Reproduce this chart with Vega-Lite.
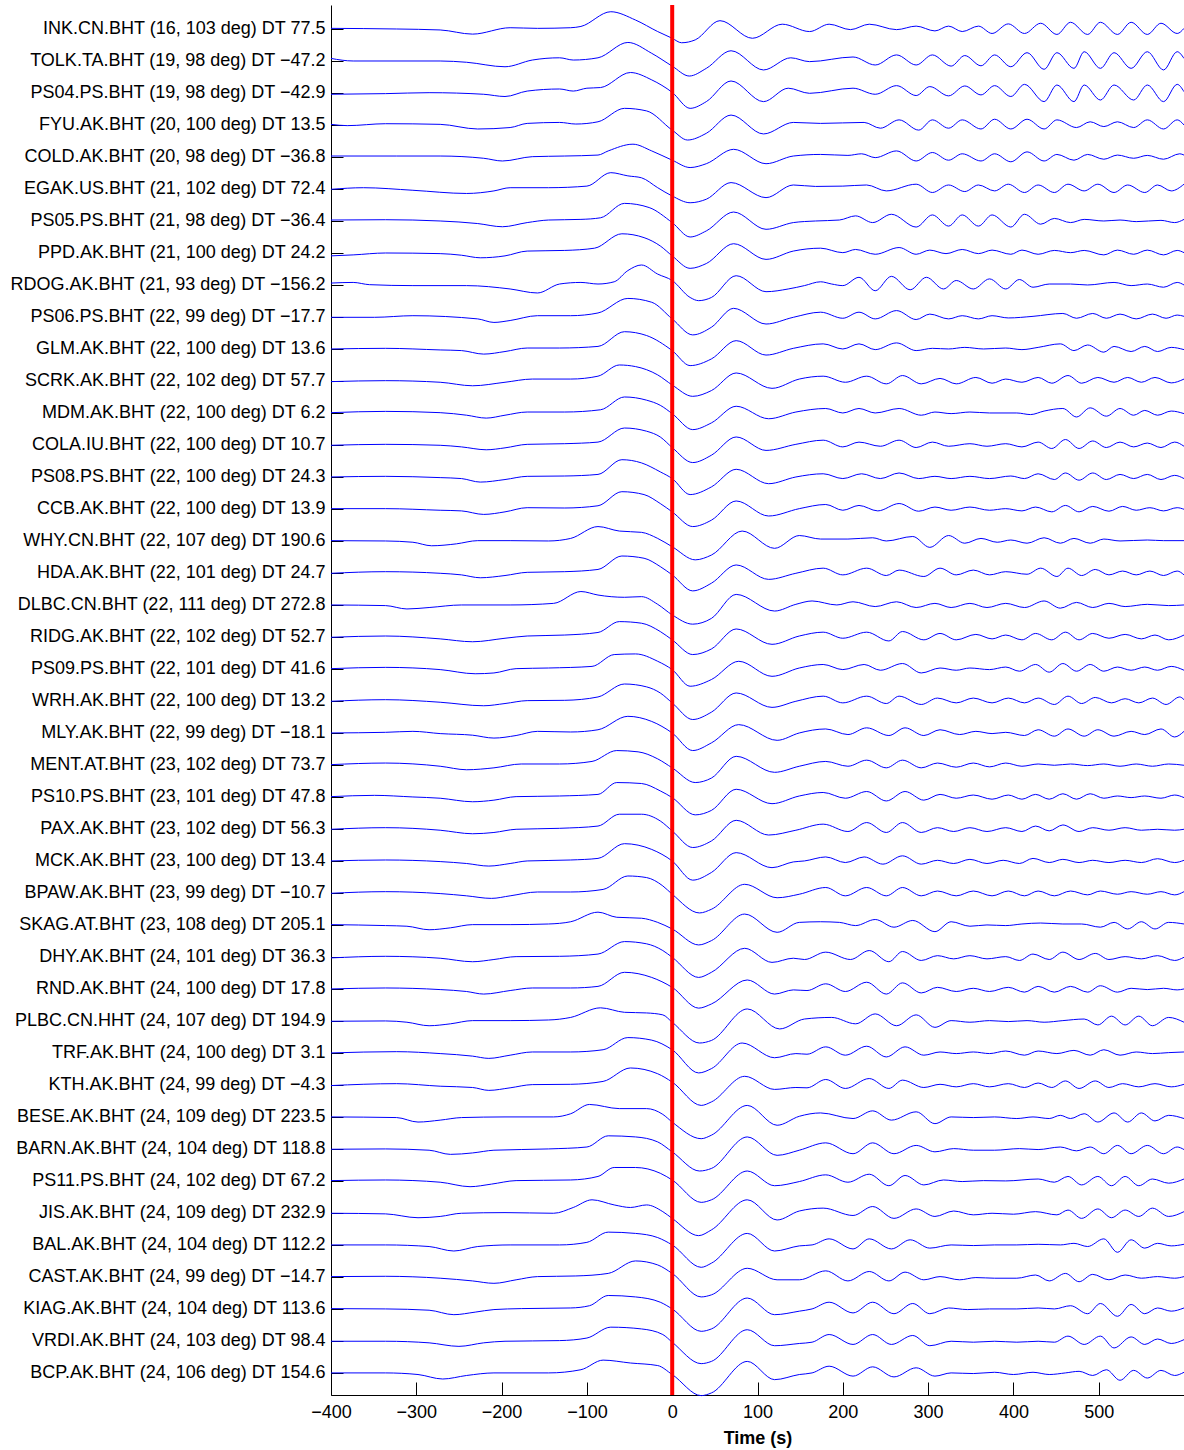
{
  "$schema": "https://vega.github.io/schema/vega-lite/v6.json",
  "width": 853,
  "height": 1390,
  "autosize": "none",
  "padding": {"left": 331, "top": 5, "right": 0, "bottom": 55},
  "background": "white",
  "config": {"view": {"stroke": null}, "font": "Liberation Sans"},
  "layer": [
    {
      "data": {"values": [
{"s":0,"t":-400,"y":-0.02},{"s":0,"t":-323,"y":0},{"s":0,"t":-272,"y":0.03},{"s":0,"t":-234,"y":0.16},{"s":0,"t":-190,"y":-0.04},{"s":0,"t":-158,"y":-0.02},{"s":0,"t":-119,"y":-0.04},{"s":0,"t":-107,"y":-0.08},{"s":0,"t":-72,"y":-0.54},{"s":0,"t":-43,"y":-0.28},{"s":0,"t":-17,"y":0.08},{"s":0,"t":0,"y":0.29},{"s":0,"t":11,"y":0.43},{"s":0,"t":27,"y":0.34},{"s":0,"t":56,"y":-0.26},{"s":0,"t":94,"y":0.29},{"s":0,"t":129,"y":-0.15},{"s":0,"t":161,"y":0.08},{"s":0,"t":184,"y":-0.15},{"s":0,"t":209,"y":0.02},{"s":0,"t":231,"y":-0.15},{"s":0,"t":263,"y":0.02},{"s":0,"t":286,"y":-0.09},{"s":0,"t":308,"y":0.06},{"s":0,"t":324,"y":-0.09},{"s":0,"t":340,"y":0.08},{"s":0,"t":359,"y":-0.09},{"s":0,"t":375,"y":0.14},{"s":0,"t":394,"y":-0.16},{"s":0,"t":413,"y":0.14},{"s":0,"t":432,"y":-0.18},{"s":0,"t":451,"y":0.17},{"s":0,"t":467,"y":-0.21},{"s":0,"t":487,"y":0.17},{"s":0,"t":502,"y":-0.21},{"s":0,"t":522,"y":0.17},{"s":0,"t":538,"y":-0.21},{"s":0,"t":557,"y":0.17},{"s":0,"t":573,"y":-0.18},{"s":0,"t":592,"y":0.14},{"s":0,"t":600,"y":-0.02},
{"s":1,"t":-400,"y":0.92},{"s":1,"t":-374,"y":1},{"s":1,"t":-272,"y":1},{"s":1,"t":-241,"y":1.04},{"s":1,"t":-196,"y":1.18},{"s":1,"t":-164,"y":0.97},{"s":1,"t":-132,"y":0.9},{"s":1,"t":-116,"y":0.97},{"s":1,"t":-87,"y":0.9},{"s":1,"t":-52,"y":0.42},{"s":1,"t":-24,"y":0.76},{"s":1,"t":0,"y":1.16},{"s":1,"t":20,"y":1.47},{"s":1,"t":40,"y":1.23},{"s":1,"t":69,"y":0.68},{"s":1,"t":107,"y":1.28},{"s":1,"t":139,"y":0.9},{"s":1,"t":161,"y":1.02},{"s":1,"t":212,"y":0.875},{"s":1,"t":238,"y":1.125},{"s":1,"t":263,"y":0.81},{"s":1,"t":286,"y":1.125},{"s":1,"t":305,"y":0.81},{"s":1,"t":327,"y":1.16},{"s":1,"t":343,"y":0.83},{"s":1,"t":362,"y":1.15},{"s":1,"t":378,"y":0.81},{"s":1,"t":397,"y":1.18},{"s":1,"t":416,"y":0.74},{"s":1,"t":436,"y":1.26},{"s":1,"t":451,"y":0.74},{"s":1,"t":471,"y":1.23},{"s":1,"t":483,"y":0.71},{"s":1,"t":502,"y":1.23},{"s":1,"t":518,"y":0.74},{"s":1,"t":538,"y":1.23},{"s":1,"t":557,"y":0.71},{"s":1,"t":576,"y":1.28},{"s":1,"t":592,"y":0.71},{"s":1,"t":600,"y":0.92},
{"s":2,"t":-400,"y":2.04},{"s":2,"t":-336,"y":2.02},{"s":2,"t":-285,"y":1.99},{"s":2,"t":-221,"y":2.04},{"s":2,"t":-196,"y":2.11},{"s":2,"t":-170,"y":1.94},{"s":2,"t":-132,"y":1.875},{"s":2,"t":-116,"y":1.94},{"s":2,"t":-100,"y":1.85},{"s":2,"t":-84,"y":1.83},{"s":2,"t":-49,"y":1.36},{"s":2,"t":-24,"y":1.59},{"s":2,"t":0,"y":1.98},{"s":2,"t":21,"y":2.48},{"s":2,"t":40,"y":2.27},{"s":2,"t":69,"y":1.625},{"s":2,"t":107,"y":2.27},{"s":2,"t":136,"y":1.85},{"s":2,"t":161,"y":2.01},{"s":2,"t":212,"y":1.85},{"s":2,"t":238,"y":2.04},{"s":2,"t":263,"y":1.77},{"s":2,"t":286,"y":2.08},{"s":2,"t":302,"y":1.8},{"s":2,"t":324,"y":2.09},{"s":2,"t":343,"y":1.78},{"s":2,"t":362,"y":2.06},{"s":2,"t":378,"y":1.77},{"s":2,"t":397,"y":2.11},{"s":2,"t":413,"y":1.73},{"s":2,"t":436,"y":2.27},{"s":2,"t":451,"y":1.75},{"s":2,"t":471,"y":2.27},{"s":2,"t":483,"y":1.75},{"s":2,"t":502,"y":2.22},{"s":2,"t":518,"y":1.75},{"s":2,"t":541,"y":2.22},{"s":2,"t":557,"y":1.75},{"s":2,"t":576,"y":2.27},{"s":2,"t":592,"y":1.73},{"s":2,"t":600,"y":1.96},
{"s":3,"t":-400,"y":2.98},{"s":3,"t":-381,"y":3.02},{"s":3,"t":-336,"y":2.96},{"s":3,"t":-272,"y":2.98},{"s":3,"t":-228,"y":3.125},{"s":3,"t":-190,"y":3.08},{"s":3,"t":-170,"y":2.95},{"s":3,"t":-132,"y":2.92},{"s":3,"t":-113,"y":2.97},{"s":3,"t":-87,"y":2.9},{"s":3,"t":-56,"y":2.48},{"s":3,"t":-30,"y":2.56},{"s":3,"t":0,"y":3.16},{"s":3,"t":18,"y":3.47},{"s":3,"t":40,"y":3.26},{"s":3,"t":69,"y":2.69},{"s":3,"t":107,"y":3.28},{"s":3,"t":142,"y":2.92},{"s":3,"t":174,"y":2.95},{"s":3,"t":225,"y":2.92},{"s":3,"t":244,"y":3.1},{"s":3,"t":266,"y":2.84},{"s":3,"t":289,"y":3.16},{"s":3,"t":305,"y":2.84},{"s":3,"t":324,"y":3.1},{"s":3,"t":340,"y":2.84},{"s":3,"t":362,"y":3.125},{"s":3,"t":378,"y":2.82},{"s":3,"t":397,"y":3.125},{"s":3,"t":416,"y":2.82},{"s":3,"t":436,"y":3.125},{"s":3,"t":451,"y":2.84},{"s":3,"t":474,"y":3.08},{"s":3,"t":490,"y":2.9},{"s":3,"t":506,"y":3.05},{"s":3,"t":522,"y":2.9},{"s":3,"t":541,"y":3.08},{"s":3,"t":557,"y":2.84},{"s":3,"t":576,"y":3.125},{"s":3,"t":592,"y":2.84},{"s":3,"t":600,"y":3},
{"s":4,"t":-400,"y":3.97},{"s":4,"t":-323,"y":3.97},{"s":4,"t":-272,"y":3.97},{"s":4,"t":-221,"y":4.04},{"s":4,"t":-199,"y":4.125},{"s":4,"t":-164,"y":3.99},{"s":4,"t":-126,"y":3.97},{"s":4,"t":-87,"y":3.94},{"s":4,"t":-75,"y":3.81},{"s":4,"t":-46,"y":3.6},{"s":4,"t":-24,"y":3.81},{"s":4,"t":0,"y":4.1},{"s":4,"t":21,"y":4.33},{"s":4,"t":40,"y":4.21},{"s":4,"t":72,"y":3.76},{"s":4,"t":110,"y":4.21},{"s":4,"t":142,"y":3.97},{"s":4,"t":174,"y":3.92},{"s":4,"t":206,"y":3.95},{"s":4,"t":222,"y":3.9},{"s":4,"t":238,"y":4.02},{"s":4,"t":263,"y":3.81},{"s":4,"t":286,"y":4.125},{"s":4,"t":305,"y":3.86},{"s":4,"t":324,"y":4.1},{"s":4,"t":340,"y":3.9},{"s":4,"t":362,"y":4.125},{"s":4,"t":378,"y":3.9},{"s":4,"t":397,"y":4.15},{"s":4,"t":416,"y":3.84},{"s":4,"t":436,"y":4.125},{"s":4,"t":451,"y":3.92},{"s":4,"t":471,"y":4.1},{"s":4,"t":487,"y":3.92},{"s":4,"t":506,"y":4.07},{"s":4,"t":522,"y":3.94},{"s":4,"t":541,"y":4.04},{"s":4,"t":557,"y":3.95},{"s":4,"t":576,"y":4.07},{"s":4,"t":595,"y":3.9},{"s":4,"t":600,"y":3.94},
{"s":5,"t":-400,"y":5.01},{"s":5,"t":-362,"y":4.96},{"s":5,"t":-304,"y":5.04},{"s":5,"t":-241,"y":5.14},{"s":5,"t":-209,"y":5.06},{"s":5,"t":-190,"y":4.96},{"s":5,"t":-145,"y":4.96},{"s":5,"t":-100,"y":4.91},{"s":5,"t":-72,"y":4.49},{"s":5,"t":-52,"y":4.59},{"s":5,"t":-36,"y":4.65},{"s":5,"t":-17,"y":4.96},{"s":5,"t":0,"y":5.22},{"s":5,"t":21,"y":5.43},{"s":5,"t":40,"y":5.32},{"s":5,"t":69,"y":4.8},{"s":5,"t":110,"y":5.27},{"s":5,"t":142,"y":4.875},{"s":5,"t":168,"y":4.92},{"s":5,"t":200,"y":4.91},{"s":5,"t":228,"y":4.875},{"s":5,"t":251,"y":5.06},{"s":5,"t":286,"y":4.85},{"s":5,"t":305,"y":5.11},{"s":5,"t":324,"y":4.875},{"s":5,"t":343,"y":5.08},{"s":5,"t":359,"y":4.875},{"s":5,"t":378,"y":5.06},{"s":5,"t":394,"y":4.85},{"s":5,"t":413,"y":5.11},{"s":5,"t":429,"y":4.875},{"s":5,"t":448,"y":5.11},{"s":5,"t":464,"y":4.85},{"s":5,"t":483,"y":5.06},{"s":5,"t":499,"y":4.85},{"s":5,"t":518,"y":5.11},{"s":5,"t":534,"y":4.875},{"s":5,"t":554,"y":5.11},{"s":5,"t":569,"y":4.875},{"s":5,"t":585,"y":5.06},{"s":5,"t":600,"y":4.85},
{"s":6,"t":-400,"y":5.97},{"s":6,"t":-336,"y":5.96},{"s":6,"t":-272,"y":6},{"s":6,"t":-228,"y":6.08},{"s":6,"t":-199,"y":6.18},{"s":6,"t":-170,"y":6.05},{"s":6,"t":-145,"y":5.97},{"s":6,"t":-107,"y":5.95},{"s":6,"t":-84,"y":5.9},{"s":6,"t":-56,"y":5.45},{"s":6,"t":-27,"y":5.58},{"s":6,"t":0,"y":6.05},{"s":6,"t":21,"y":6.5},{"s":6,"t":40,"y":6.31},{"s":6,"t":72,"y":5.72},{"s":6,"t":110,"y":6.26},{"s":6,"t":142,"y":6.05},{"s":6,"t":168,"y":6},{"s":6,"t":196,"y":5.97},{"s":6,"t":215,"y":5.84},{"s":6,"t":235,"y":6.05},{"s":6,"t":257,"y":5.79},{"s":6,"t":286,"y":6.19},{"s":6,"t":305,"y":5.81},{"s":6,"t":324,"y":6.16},{"s":6,"t":340,"y":5.81},{"s":6,"t":359,"y":6.16},{"s":6,"t":375,"y":5.81},{"s":6,"t":397,"y":6.19},{"s":6,"t":413,"y":5.79},{"s":6,"t":432,"y":6.1},{"s":6,"t":448,"y":5.92},{"s":6,"t":467,"y":6.05},{"s":6,"t":483,"y":5.95},{"s":6,"t":506,"y":6},{"s":6,"t":525,"y":5.97},{"s":6,"t":544,"y":6.02},{"s":6,"t":573,"y":5.98},{"s":6,"t":589,"y":6.05},{"s":6,"t":600,"y":5.95},
{"s":7,"t":-400,"y":7.09},{"s":7,"t":-374,"y":7.06},{"s":7,"t":-336,"y":7},{"s":7,"t":-272,"y":7.02},{"s":7,"t":-247,"y":7.07},{"s":7,"t":-225,"y":7.15},{"s":7,"t":-196,"y":7.09},{"s":7,"t":-170,"y":6.94},{"s":7,"t":-126,"y":6.92},{"s":7,"t":-91,"y":6.85},{"s":7,"t":-59,"y":6.4},{"s":7,"t":-33,"y":6.52},{"s":7,"t":-14,"y":6.78},{"s":7,"t":0,"y":7.09},{"s":7,"t":21,"y":7.48},{"s":7,"t":40,"y":7.33},{"s":7,"t":72,"y":6.71},{"s":7,"t":110,"y":7.2},{"s":7,"t":142,"y":6.94},{"s":7,"t":174,"y":6.85},{"s":7,"t":200,"y":6.99},{"s":7,"t":215,"y":6.89},{"s":7,"t":238,"y":7.04},{"s":7,"t":266,"y":6.83},{"s":7,"t":286,"y":7.04},{"s":7,"t":302,"y":6.91},{"s":7,"t":321,"y":7.02},{"s":7,"t":340,"y":6.89},{"s":7,"t":359,"y":7.02},{"s":7,"t":375,"y":6.91},{"s":7,"t":397,"y":7.04},{"s":7,"t":410,"y":6.91},{"s":7,"t":429,"y":7.04},{"s":7,"t":448,"y":6.92},{"s":7,"t":467,"y":6.99},{"s":7,"t":483,"y":6.92},{"s":7,"t":506,"y":7.06},{"s":7,"t":522,"y":6.91},{"s":7,"t":541,"y":7.04},{"s":7,"t":557,"y":6.91},{"s":7,"t":576,"y":7.06},{"s":7,"t":592,"y":6.92},{"s":7,"t":600,"y":6.99},
{"s":8,"t":-400,"y":7.94},{"s":8,"t":-374,"y":7.92},{"s":8,"t":-355,"y":7.99},{"s":8,"t":-304,"y":8.02},{"s":8,"t":-241,"y":8.02},{"s":8,"t":-190,"y":8.125},{"s":8,"t":-158,"y":8.25},{"s":8,"t":-132,"y":7.97},{"s":8,"t":-107,"y":7.92},{"s":8,"t":-87,"y":7.97},{"s":8,"t":-68,"y":7.9},{"s":8,"t":-52,"y":7.55},{"s":8,"t":-36,"y":7.375},{"s":8,"t":-17,"y":7.66},{"s":8,"t":0,"y":7.86},{"s":8,"t":21,"y":8.39},{"s":8,"t":31,"y":8.49},{"s":8,"t":46,"y":8.39},{"s":8,"t":75,"y":7.71},{"s":8,"t":110,"y":8.21},{"s":8,"t":136,"y":8.125},{"s":8,"t":155,"y":8.02},{"s":8,"t":174,"y":7.9},{"s":8,"t":187,"y":7.97},{"s":8,"t":200,"y":8.02},{"s":8,"t":219,"y":7.76},{"s":8,"t":238,"y":8.18},{"s":8,"t":257,"y":7.73},{"s":8,"t":279,"y":8.15},{"s":8,"t":298,"y":7.76},{"s":8,"t":318,"y":8.125},{"s":8,"t":333,"y":7.86},{"s":8,"t":353,"y":8.125},{"s":8,"t":372,"y":7.81},{"s":8,"t":391,"y":8.125},{"s":8,"t":407,"y":7.83},{"s":8,"t":423,"y":8.07},{"s":8,"t":442,"y":7.97},{"s":8,"t":467,"y":7.97},{"s":8,"t":487,"y":8},{"s":8,"t":518,"y":7.92},{"s":8,"t":538,"y":8.02},{"s":8,"t":557,"y":7.97},{"s":8,"t":576,"y":8.07},{"s":8,"t":592,"y":7.92},{"s":8,"t":600,"y":8},
{"s":9,"t":-400,"y":9.01},{"s":9,"t":-349,"y":9.01},{"s":9,"t":-304,"y":8.96},{"s":9,"t":-228,"y":9.06},{"s":9,"t":-209,"y":9.17},{"s":9,"t":-190,"y":9.11},{"s":9,"t":-158,"y":8.96},{"s":9,"t":-119,"y":8.96},{"s":9,"t":-87,"y":8.875},{"s":9,"t":-52,"y":8.42},{"s":9,"t":-24,"y":8.54},{"s":9,"t":0,"y":9.06},{"s":9,"t":24,"y":9.56},{"s":9,"t":46,"y":9.32},{"s":9,"t":72,"y":8.73},{"s":9,"t":110,"y":9.22},{"s":9,"t":142,"y":9.01},{"s":9,"t":174,"y":8.85},{"s":9,"t":200,"y":9.04},{"s":9,"t":219,"y":8.85},{"s":9,"t":238,"y":9.06},{"s":9,"t":263,"y":8.8},{"s":9,"t":286,"y":9.08},{"s":9,"t":302,"y":8.91},{"s":9,"t":324,"y":9.06},{"s":9,"t":340,"y":8.96},{"s":9,"t":359,"y":9.06},{"s":9,"t":375,"y":8.96},{"s":9,"t":394,"y":9.03},{"s":9,"t":423,"y":8.98},{"s":9,"t":458,"y":8.89},{"s":9,"t":474,"y":9.04},{"s":9,"t":493,"y":8.89},{"s":9,"t":509,"y":9.04},{"s":9,"t":525,"y":8.91},{"s":9,"t":544,"y":9.06},{"s":9,"t":563,"y":8.91},{"s":9,"t":579,"y":9.04},{"s":9,"t":592,"y":8.94},{"s":9,"t":600,"y":8.98},
{"s":10,"t":-400,"y":10},{"s":10,"t":-336,"y":9.98},{"s":10,"t":-272,"y":10.03},{"s":10,"t":-247,"y":10.05},{"s":10,"t":-221,"y":10.16},{"s":10,"t":-196,"y":10.08},{"s":10,"t":-170,"y":9.97},{"s":10,"t":-132,"y":9.97},{"s":10,"t":-87,"y":9.92},{"s":10,"t":-56,"y":9.46},{"s":10,"t":-30,"y":9.58},{"s":10,"t":0,"y":10.05},{"s":10,"t":21,"y":10.52},{"s":10,"t":46,"y":10.31},{"s":10,"t":75,"y":9.74},{"s":10,"t":110,"y":10.19},{"s":10,"t":142,"y":9.98},{"s":10,"t":177,"y":9.84},{"s":10,"t":200,"y":10},{"s":10,"t":219,"y":9.84},{"s":10,"t":238,"y":10.02},{"s":10,"t":263,"y":9.81},{"s":10,"t":286,"y":10.05},{"s":10,"t":305,"y":9.98},{"s":10,"t":324,"y":10},{"s":10,"t":343,"y":9.95},{"s":10,"t":365,"y":10},{"s":10,"t":391,"y":9.97},{"s":10,"t":410,"y":10.02},{"s":10,"t":429,"y":9.95},{"s":10,"t":455,"y":9.84},{"s":10,"t":471,"y":10.05},{"s":10,"t":487,"y":9.875},{"s":10,"t":506,"y":10.1},{"s":10,"t":518,"y":9.92},{"s":10,"t":538,"y":10.08},{"s":10,"t":554,"y":9.92},{"s":10,"t":569,"y":10.08},{"s":10,"t":585,"y":9.95},{"s":10,"t":600,"y":10.02},
{"s":11,"t":-400,"y":11.02},{"s":11,"t":-336,"y":10.99},{"s":11,"t":-272,"y":11.04},{"s":11,"t":-234,"y":11.15},{"s":11,"t":-196,"y":11.04},{"s":11,"t":-164,"y":10.94},{"s":11,"t":-119,"y":10.94},{"s":11,"t":-87,"y":10.85},{"s":11,"t":-62,"y":10.5},{"s":11,"t":-43,"y":10.55},{"s":11,"t":-17,"y":10.81},{"s":11,"t":0,"y":11.125},{"s":11,"t":24,"y":11.48},{"s":11,"t":46,"y":11.3},{"s":11,"t":75,"y":10.75},{"s":11,"t":117,"y":11.23},{"s":11,"t":149,"y":10.94},{"s":11,"t":177,"y":10.85},{"s":11,"t":203,"y":11.04},{"s":11,"t":228,"y":10.85},{"s":11,"t":251,"y":11.09},{"s":11,"t":270,"y":10.83},{"s":11,"t":292,"y":11.09},{"s":11,"t":314,"y":10.92},{"s":11,"t":333,"y":11.09},{"s":11,"t":356,"y":10.89},{"s":11,"t":375,"y":11.07},{"s":11,"t":391,"y":10.94},{"s":11,"t":410,"y":11.04},{"s":11,"t":429,"y":10.89},{"s":11,"t":445,"y":11.07},{"s":11,"t":464,"y":10.83},{"s":11,"t":480,"y":11.07},{"s":11,"t":499,"y":10.89},{"s":11,"t":518,"y":11.04},{"s":11,"t":534,"y":10.89},{"s":11,"t":550,"y":11.04},{"s":11,"t":566,"y":10.89},{"s":11,"t":585,"y":11.06},{"s":11,"t":600,"y":10.94},
{"s":12,"t":-400,"y":11.99},{"s":12,"t":-336,"y":11.95},{"s":12,"t":-272,"y":11.99},{"s":12,"t":-241,"y":12.07},{"s":12,"t":-218,"y":12.16},{"s":12,"t":-196,"y":12.07},{"s":12,"t":-170,"y":11.97},{"s":12,"t":-126,"y":11.97},{"s":12,"t":-84,"y":11.9},{"s":12,"t":-56,"y":11.5},{"s":12,"t":-30,"y":11.6},{"s":12,"t":-14,"y":11.76},{"s":12,"t":0,"y":12.02},{"s":12,"t":24,"y":12.52},{"s":12,"t":46,"y":12.31},{"s":12,"t":75,"y":11.79},{"s":12,"t":113,"y":12.18},{"s":12,"t":145,"y":11.97},{"s":12,"t":180,"y":11.86},{"s":12,"t":200,"y":12},{"s":12,"t":219,"y":11.86},{"s":12,"t":238,"y":12},{"s":12,"t":266,"y":11.86},{"s":12,"t":292,"y":12.07},{"s":12,"t":308,"y":11.97},{"s":12,"t":327,"y":12.02},{"s":12,"t":349,"y":11.97},{"s":12,"t":372,"y":12},{"s":12,"t":404,"y":12},{"s":12,"t":420,"y":12.05},{"s":12,"t":436,"y":11.94},{"s":12,"t":458,"y":11.86},{"s":12,"t":474,"y":12.125},{"s":12,"t":490,"y":11.84},{"s":12,"t":509,"y":12.1},{"s":12,"t":525,"y":11.86},{"s":12,"t":541,"y":12.07},{"s":12,"t":554,"y":11.92},{"s":12,"t":569,"y":12.07},{"s":12,"t":585,"y":11.94},{"s":12,"t":600,"y":12.02},
{"s":13,"t":-400,"y":13.01},{"s":13,"t":-336,"y":12.98},{"s":13,"t":-272,"y":13.01},{"s":13,"t":-247,"y":13.06},{"s":13,"t":-218,"y":13.15},{"s":13,"t":-196,"y":13.09},{"s":13,"t":-170,"y":12.98},{"s":13,"t":-126,"y":12.96},{"s":13,"t":-87,"y":12.91},{"s":13,"t":-56,"y":12.47},{"s":13,"t":-30,"y":12.57},{"s":13,"t":-14,"y":12.75},{"s":13,"t":0,"y":13.08},{"s":13,"t":24,"y":13.55},{"s":13,"t":46,"y":13.32},{"s":13,"t":75,"y":12.75},{"s":13,"t":110,"y":13.17},{"s":13,"t":145,"y":12.98},{"s":13,"t":177,"y":12.85},{"s":13,"t":200,"y":13.06},{"s":13,"t":219,"y":12.91},{"s":13,"t":244,"y":13.04},{"s":13,"t":266,"y":12.85},{"s":13,"t":286,"y":13.08},{"s":13,"t":305,"y":12.91},{"s":13,"t":324,"y":13.04},{"s":13,"t":349,"y":12.96},{"s":13,"t":369,"y":13.04},{"s":13,"t":391,"y":12.96},{"s":13,"t":410,"y":13.06},{"s":13,"t":429,"y":12.91},{"s":13,"t":445,"y":13.11},{"s":13,"t":461,"y":12.83},{"s":13,"t":477,"y":13.11},{"s":13,"t":493,"y":12.875},{"s":13,"t":509,"y":13.08},{"s":13,"t":525,"y":12.91},{"s":13,"t":541,"y":13.06},{"s":13,"t":557,"y":12.94},{"s":13,"t":573,"y":13.08},{"s":13,"t":589,"y":12.91},{"s":13,"t":600,"y":13.04},
{"s":14,"t":-400,"y":14},{"s":14,"t":-336,"y":13.98},{"s":14,"t":-272,"y":14.02},{"s":14,"t":-247,"y":14.05},{"s":14,"t":-225,"y":14.16},{"s":14,"t":-196,"y":14.08},{"s":14,"t":-170,"y":13.98},{"s":14,"t":-126,"y":13.97},{"s":14,"t":-87,"y":13.92},{"s":14,"t":-59,"y":13.46},{"s":14,"t":-36,"y":13.56},{"s":14,"t":-14,"y":13.84},{"s":14,"t":0,"y":14.05},{"s":14,"t":21,"y":14.55},{"s":14,"t":46,"y":14.31},{"s":14,"t":75,"y":13.76},{"s":14,"t":113,"y":14.21},{"s":14,"t":145,"y":14},{"s":14,"t":177,"y":13.9},{"s":14,"t":200,"y":14.05},{"s":14,"t":222,"y":13.9},{"s":14,"t":244,"y":14.05},{"s":14,"t":266,"y":13.875},{"s":14,"t":289,"y":14.05},{"s":14,"t":308,"y":13.98},{"s":14,"t":327,"y":14.05},{"s":14,"t":349,"y":13.98},{"s":14,"t":372,"y":14.05},{"s":14,"t":397,"y":13.97},{"s":14,"t":413,"y":14.05},{"s":14,"t":429,"y":13.9},{"s":14,"t":448,"y":14.08},{"s":14,"t":461,"y":13.875},{"s":14,"t":477,"y":14.1},{"s":14,"t":493,"y":13.875},{"s":14,"t":509,"y":14.08},{"s":14,"t":525,"y":13.92},{"s":14,"t":541,"y":14.05},{"s":14,"t":557,"y":13.92},{"s":14,"t":573,"y":14.08},{"s":14,"t":589,"y":13.95},{"s":14,"t":600,"y":14.05},
{"s":15,"t":-400,"y":14.99},{"s":15,"t":-336,"y":14.99},{"s":15,"t":-272,"y":15.04},{"s":15,"t":-247,"y":15.06},{"s":15,"t":-221,"y":15.17},{"s":15,"t":-196,"y":15.09},{"s":15,"t":-170,"y":14.96},{"s":15,"t":-126,"y":14.97},{"s":15,"t":-87,"y":14.9},{"s":15,"t":-59,"y":14.46},{"s":15,"t":-33,"y":14.55},{"s":15,"t":-14,"y":14.83},{"s":15,"t":0,"y":15.09},{"s":15,"t":24,"y":15.55},{"s":15,"t":46,"y":15.35},{"s":15,"t":75,"y":14.75},{"s":15,"t":113,"y":15.22},{"s":15,"t":149,"y":14.99},{"s":15,"t":180,"y":14.86},{"s":15,"t":200,"y":15.04},{"s":15,"t":219,"y":14.89},{"s":15,"t":241,"y":15.06},{"s":15,"t":266,"y":14.83},{"s":15,"t":289,"y":15.07},{"s":15,"t":308,"y":14.94},{"s":15,"t":327,"y":15.04},{"s":15,"t":349,"y":14.94},{"s":15,"t":372,"y":15.04},{"s":15,"t":391,"y":14.99},{"s":15,"t":410,"y":15.06},{"s":15,"t":426,"y":14.94},{"s":15,"t":445,"y":15.09},{"s":15,"t":461,"y":14.89},{"s":15,"t":477,"y":15.09},{"s":15,"t":493,"y":14.92},{"s":15,"t":512,"y":15.07},{"s":15,"t":528,"y":14.92},{"s":15,"t":544,"y":15.04},{"s":15,"t":560,"y":14.96},{"s":15,"t":576,"y":15.06},{"s":15,"t":592,"y":14.96},{"s":15,"t":600,"y":15.01},
{"s":16,"t":-400,"y":15.99},{"s":16,"t":-336,"y":16},{"s":16,"t":-304,"y":16.04},{"s":16,"t":-282,"y":16.15},{"s":16,"t":-253,"y":16.09},{"s":16,"t":-228,"y":15.99},{"s":16,"t":-190,"y":15.99},{"s":16,"t":-145,"y":16},{"s":16,"t":-119,"y":15.92},{"s":16,"t":-87,"y":15.55},{"s":16,"t":-62,"y":15.69},{"s":16,"t":-36,"y":15.73},{"s":16,"t":-17,"y":15.92},{"s":16,"t":0,"y":16.18},{"s":16,"t":27,"y":16.59},{"s":16,"t":46,"y":16.44},{"s":16,"t":82,"y":15.69},{"s":16,"t":120,"y":16.23},{"s":16,"t":149,"y":15.83},{"s":16,"t":174,"y":15.94},{"s":16,"t":206,"y":15.94},{"s":16,"t":235,"y":15.9},{"s":16,"t":251,"y":16},{"s":16,"t":282,"y":15.86},{"s":16,"t":302,"y":16.2},{"s":16,"t":324,"y":15.83},{"s":16,"t":343,"y":16.07},{"s":16,"t":362,"y":15.92},{"s":16,"t":381,"y":16.04},{"s":16,"t":397,"y":15.97},{"s":16,"t":416,"y":16.07},{"s":16,"t":436,"y":15.9},{"s":16,"t":455,"y":16.07},{"s":16,"t":471,"y":15.92},{"s":16,"t":490,"y":16.07},{"s":16,"t":506,"y":15.94},{"s":16,"t":525,"y":16},{"s":16,"t":557,"y":15.97},{"s":16,"t":576,"y":15.99},{"s":16,"t":600,"y":15.99},
{"s":17,"t":-400,"y":17.01},{"s":17,"t":-336,"y":16.96},{"s":17,"t":-272,"y":17.01},{"s":17,"t":-247,"y":17.06},{"s":17,"t":-225,"y":17.15},{"s":17,"t":-196,"y":17.08},{"s":17,"t":-170,"y":16.98},{"s":17,"t":-126,"y":16.96},{"s":17,"t":-87,"y":16.89},{"s":17,"t":-59,"y":16.47},{"s":17,"t":-33,"y":16.54},{"s":17,"t":-14,"y":16.8},{"s":17,"t":0,"y":17.06},{"s":17,"t":24,"y":17.56},{"s":17,"t":46,"y":17.32},{"s":17,"t":75,"y":16.75},{"s":17,"t":113,"y":17.2},{"s":17,"t":145,"y":17.01},{"s":17,"t":177,"y":16.85},{"s":17,"t":200,"y":17.06},{"s":17,"t":228,"y":16.85},{"s":17,"t":251,"y":17.08},{"s":17,"t":266,"y":16.91},{"s":17,"t":295,"y":17.11},{"s":17,"t":314,"y":16.85},{"s":17,"t":333,"y":17.06},{"s":17,"t":353,"y":16.91},{"s":17,"t":372,"y":17.06},{"s":17,"t":391,"y":16.96},{"s":17,"t":416,"y":17.04},{"s":17,"t":432,"y":16.85},{"s":17,"t":451,"y":17.11},{"s":17,"t":464,"y":16.85},{"s":17,"t":480,"y":17.08},{"s":17,"t":496,"y":16.89},{"s":17,"t":512,"y":17.06},{"s":17,"t":528,"y":16.94},{"s":17,"t":544,"y":17.06},{"s":17,"t":560,"y":16.94},{"s":17,"t":576,"y":17.08},{"s":17,"t":592,"y":16.94},{"s":17,"t":600,"y":17.06},
{"s":18,"t":-400,"y":18},{"s":18,"t":-336,"y":18.02},{"s":18,"t":-311,"y":18.125},{"s":18,"t":-285,"y":18.08},{"s":18,"t":-247,"y":18},{"s":18,"t":-190,"y":18},{"s":18,"t":-139,"y":17.95},{"s":18,"t":-107,"y":17.58},{"s":18,"t":-87,"y":17.69},{"s":18,"t":-56,"y":17.76},{"s":18,"t":-36,"y":17.74},{"s":18,"t":-17,"y":17.98},{"s":18,"t":0,"y":18.31},{"s":18,"t":24,"y":18.6},{"s":18,"t":46,"y":18.42},{"s":18,"t":75,"y":17.67},{"s":18,"t":120,"y":18.19},{"s":18,"t":145,"y":17.98},{"s":18,"t":164,"y":17.875},{"s":18,"t":193,"y":18},{"s":18,"t":212,"y":17.9},{"s":18,"t":238,"y":18.05},{"s":18,"t":263,"y":17.9},{"s":18,"t":286,"y":18.08},{"s":18,"t":308,"y":17.95},{"s":18,"t":327,"y":18.08},{"s":18,"t":349,"y":17.95},{"s":18,"t":369,"y":18.08},{"s":18,"t":391,"y":17.95},{"s":18,"t":413,"y":18.08},{"s":18,"t":436,"y":17.875},{"s":18,"t":455,"y":18.1},{"s":18,"t":474,"y":17.92},{"s":18,"t":493,"y":18.08},{"s":18,"t":512,"y":17.95},{"s":18,"t":531,"y":18.05},{"s":18,"t":557,"y":17.98},{"s":18,"t":582,"y":18.02},{"s":18,"t":600,"y":18},
{"s":19,"t":-400,"y":19.01},{"s":19,"t":-336,"y":18.97},{"s":19,"t":-272,"y":19.06},{"s":19,"t":-234,"y":19.15},{"s":19,"t":-196,"y":19.04},{"s":19,"t":-170,"y":18.97},{"s":19,"t":-126,"y":18.94},{"s":19,"t":-87,"y":18.86},{"s":19,"t":-62,"y":18.52},{"s":19,"t":-36,"y":18.57},{"s":19,"t":-14,"y":18.83},{"s":19,"t":0,"y":19.09},{"s":19,"t":24,"y":19.55},{"s":19,"t":46,"y":19.375},{"s":19,"t":75,"y":18.75},{"s":19,"t":117,"y":19.23},{"s":19,"t":149,"y":18.97},{"s":19,"t":177,"y":18.85},{"s":19,"t":200,"y":19.04},{"s":19,"t":228,"y":18.85},{"s":19,"t":254,"y":19.125},{"s":19,"t":270,"y":18.83},{"s":19,"t":295,"y":19.09},{"s":19,"t":314,"y":18.89},{"s":19,"t":333,"y":19.09},{"s":19,"t":356,"y":18.92},{"s":19,"t":375,"y":19.06},{"s":19,"t":391,"y":18.94},{"s":19,"t":410,"y":19.09},{"s":19,"t":426,"y":18.89},{"s":19,"t":445,"y":19.09},{"s":19,"t":461,"y":18.85},{"s":19,"t":477,"y":19.09},{"s":19,"t":493,"y":18.89},{"s":19,"t":512,"y":19.04},{"s":19,"t":531,"y":18.92},{"s":19,"t":550,"y":19.06},{"s":19,"t":566,"y":18.94},{"s":19,"t":582,"y":19.09},{"s":19,"t":600,"y":18.94},
{"s":20,"t":-400,"y":19.99},{"s":20,"t":-336,"y":19.95},{"s":20,"t":-272,"y":20.02},{"s":20,"t":-231,"y":20.15},{"s":20,"t":-209,"y":20.125},{"s":20,"t":-183,"y":19.99},{"s":20,"t":-145,"y":19.97},{"s":20,"t":-94,"y":19.92},{"s":20,"t":-68,"y":19.55},{"s":20,"t":-43,"y":19.53},{"s":20,"t":-17,"y":19.76},{"s":20,"t":0,"y":20.02},{"s":20,"t":21,"y":20.54},{"s":20,"t":46,"y":20.33},{"s":20,"t":78,"y":19.76},{"s":20,"t":117,"y":20.23},{"s":20,"t":149,"y":19.97},{"s":20,"t":177,"y":19.86},{"s":20,"t":200,"y":20.02},{"s":20,"t":225,"y":19.86},{"s":20,"t":244,"y":20.04},{"s":20,"t":270,"y":19.83},{"s":20,"t":292,"y":20.125},{"s":20,"t":314,"y":19.97},{"s":20,"t":333,"y":20.04},{"s":20,"t":349,"y":19.97},{"s":20,"t":372,"y":20.02},{"s":20,"t":391,"y":19.94},{"s":20,"t":407,"y":20.07},{"s":20,"t":426,"y":19.86},{"s":20,"t":442,"y":20.1},{"s":20,"t":458,"y":19.83},{"s":20,"t":474,"y":20.07},{"s":20,"t":490,"y":19.86},{"s":20,"t":506,"y":20.07},{"s":20,"t":522,"y":19.94},{"s":20,"t":538,"y":20.04},{"s":20,"t":554,"y":19.94},{"s":20,"t":569,"y":20.04},{"s":20,"t":585,"y":19.92},{"s":20,"t":600,"y":20.04},
{"s":21,"t":-400,"y":21.01},{"s":21,"t":-336,"y":20.96},{"s":21,"t":-272,"y":21.04},{"s":21,"t":-221,"y":21.15},{"s":21,"t":-196,"y":21.08},{"s":21,"t":-170,"y":20.99},{"s":21,"t":-126,"y":20.98},{"s":21,"t":-87,"y":20.875},{"s":21,"t":-56,"y":20.47},{"s":21,"t":-30,"y":20.56},{"s":21,"t":-14,"y":20.75},{"s":21,"t":0,"y":21.06},{"s":21,"t":24,"y":21.58},{"s":21,"t":46,"y":21.35},{"s":21,"t":75,"y":20.75},{"s":21,"t":117,"y":21.2},{"s":21,"t":145,"y":21.01},{"s":21,"t":177,"y":20.85},{"s":21,"t":200,"y":21.06},{"s":21,"t":228,"y":20.85},{"s":21,"t":251,"y":21.08},{"s":21,"t":266,"y":20.85},{"s":21,"t":292,"y":21.11},{"s":21,"t":311,"y":20.91},{"s":21,"t":333,"y":21.06},{"s":21,"t":353,"y":20.91},{"s":21,"t":375,"y":21.06},{"s":21,"t":394,"y":20.91},{"s":21,"t":413,"y":21.06},{"s":21,"t":429,"y":20.91},{"s":21,"t":448,"y":21.11},{"s":21,"t":464,"y":20.85},{"s":21,"t":480,"y":21.08},{"s":21,"t":496,"y":20.89},{"s":21,"t":515,"y":21.06},{"s":21,"t":531,"y":20.93},{"s":21,"t":547,"y":21.06},{"s":21,"t":563,"y":20.91},{"s":21,"t":579,"y":21.11},{"s":21,"t":595,"y":20.875},{"s":21,"t":600,"y":20.96},
{"s":22,"t":-400,"y":22},{"s":22,"t":-336,"y":21.98},{"s":22,"t":-304,"y":21.95},{"s":22,"t":-272,"y":22.02},{"s":22,"t":-234,"y":22.07},{"s":22,"t":-209,"y":22.16},{"s":22,"t":-183,"y":22.08},{"s":22,"t":-158,"y":21.95},{"s":22,"t":-119,"y":21.97},{"s":22,"t":-87,"y":21.9},{"s":22,"t":-52,"y":21.48},{"s":22,"t":-24,"y":21.64},{"s":22,"t":0,"y":22},{"s":22,"t":24,"y":22.55},{"s":22,"t":46,"y":22.31},{"s":22,"t":78,"y":21.74},{"s":22,"t":123,"y":22.23},{"s":22,"t":149,"y":22},{"s":22,"t":180,"y":21.875},{"s":22,"t":206,"y":22.05},{"s":22,"t":228,"y":21.84},{"s":22,"t":254,"y":22.08},{"s":22,"t":273,"y":21.84},{"s":22,"t":295,"y":22.08},{"s":22,"t":314,"y":21.9},{"s":22,"t":337,"y":22.05},{"s":22,"t":356,"y":21.95},{"s":22,"t":375,"y":22.02},{"s":22,"t":391,"y":21.98},{"s":22,"t":413,"y":22.08},{"s":22,"t":429,"y":21.9},{"s":22,"t":448,"y":22.1},{"s":22,"t":464,"y":21.875},{"s":22,"t":483,"y":22.1},{"s":22,"t":499,"y":21.9},{"s":22,"t":518,"y":22.1},{"s":22,"t":538,"y":21.95},{"s":22,"t":554,"y":22.05},{"s":22,"t":573,"y":21.875},{"s":22,"t":589,"y":22.125},{"s":22,"t":600,"y":21.95},
{"s":23,"t":-400,"y":22.99},{"s":23,"t":-336,"y":22.94},{"s":23,"t":-272,"y":23.04},{"s":23,"t":-241,"y":23.15},{"s":23,"t":-209,"y":23.09},{"s":23,"t":-177,"y":22.97},{"s":23,"t":-132,"y":22.97},{"s":23,"t":-94,"y":22.89},{"s":23,"t":-65,"y":22.55},{"s":23,"t":-40,"y":22.59},{"s":23,"t":-17,"y":22.81},{"s":23,"t":0,"y":23.09},{"s":23,"t":27,"y":23.55},{"s":23,"t":46,"y":23.41},{"s":23,"t":75,"y":22.73},{"s":23,"t":120,"y":23.23},{"s":23,"t":149,"y":23.04},{"s":23,"t":180,"y":22.89},{"s":23,"t":206,"y":23.04},{"s":23,"t":228,"y":22.85},{"s":23,"t":251,"y":23.09},{"s":23,"t":270,"y":22.85},{"s":23,"t":292,"y":23.09},{"s":23,"t":311,"y":22.94},{"s":23,"t":333,"y":23.07},{"s":23,"t":353,"y":22.94},{"s":23,"t":372,"y":23.06},{"s":23,"t":391,"y":22.94},{"s":23,"t":410,"y":23.04},{"s":23,"t":429,"y":22.97},{"s":23,"t":448,"y":23.01},{"s":23,"t":467,"y":22.97},{"s":23,"t":487,"y":23.02},{"s":23,"t":506,"y":22.97},{"s":23,"t":525,"y":23.04},{"s":23,"t":544,"y":22.97},{"s":23,"t":563,"y":23.04},{"s":23,"t":582,"y":22.97},{"s":23,"t":600,"y":23.01},
{"s":24,"t":-400,"y":23.99},{"s":24,"t":-349,"y":23.95},{"s":24,"t":-304,"y":24},{"s":24,"t":-272,"y":24.04},{"s":24,"t":-234,"y":24.15},{"s":24,"t":-209,"y":24.1},{"s":24,"t":-183,"y":23.99},{"s":24,"t":-132,"y":23.97},{"s":24,"t":-87,"y":23.92},{"s":24,"t":-65,"y":23.55},{"s":24,"t":-36,"y":23.58},{"s":24,"t":-14,"y":23.81},{"s":24,"t":0,"y":24.02},{"s":24,"t":27,"y":24.56},{"s":24,"t":46,"y":24.42},{"s":24,"t":75,"y":23.76},{"s":24,"t":117,"y":24.21},{"s":24,"t":149,"y":23.97},{"s":24,"t":177,"y":23.86},{"s":24,"t":203,"y":24.04},{"s":24,"t":228,"y":23.83},{"s":24,"t":251,"y":24.125},{"s":24,"t":273,"y":23.83},{"s":24,"t":295,"y":24.1},{"s":24,"t":314,"y":23.92},{"s":24,"t":333,"y":24.04},{"s":24,"t":353,"y":23.94},{"s":24,"t":375,"y":24.07},{"s":24,"t":394,"y":23.94},{"s":24,"t":410,"y":24.07},{"s":24,"t":426,"y":23.92},{"s":24,"t":442,"y":24.07},{"s":24,"t":458,"y":23.9},{"s":24,"t":474,"y":24.07},{"s":24,"t":490,"y":23.9},{"s":24,"t":506,"y":24.04},{"s":24,"t":522,"y":23.97},{"s":24,"t":538,"y":24.02},{"s":24,"t":554,"y":23.97},{"s":24,"t":573,"y":24.04},{"s":24,"t":589,"y":23.94},{"s":24,"t":600,"y":24.02},
{"s":25,"t":-400,"y":25.01},{"s":25,"t":-336,"y":24.96},{"s":25,"t":-272,"y":25.04},{"s":25,"t":-234,"y":25.15},{"s":25,"t":-209,"y":25.11},{"s":25,"t":-183,"y":25.01},{"s":25,"t":-132,"y":24.98},{"s":25,"t":-87,"y":24.91},{"s":25,"t":-62,"y":24.54},{"s":25,"t":-36,"y":24.54},{"s":25,"t":-14,"y":24.75},{"s":25,"t":0,"y":25.06},{"s":25,"t":24,"y":25.58},{"s":25,"t":46,"y":25.375},{"s":25,"t":75,"y":24.73},{"s":25,"t":113,"y":25.19},{"s":25,"t":145,"y":25.04},{"s":25,"t":177,"y":24.85},{"s":25,"t":206,"y":25.08},{"s":25,"t":228,"y":24.8},{"s":25,"t":251,"y":25.11},{"s":25,"t":270,"y":24.8},{"s":25,"t":292,"y":25.11},{"s":25,"t":311,"y":24.96},{"s":25,"t":330,"y":25.08},{"s":25,"t":349,"y":24.96},{"s":25,"t":369,"y":25.08},{"s":25,"t":391,"y":24.96},{"s":25,"t":410,"y":25.08},{"s":25,"t":426,"y":24.91},{"s":25,"t":442,"y":25.06},{"s":25,"t":458,"y":24.875},{"s":25,"t":477,"y":25.08},{"s":25,"t":493,"y":24.96},{"s":25,"t":512,"y":25.04},{"s":25,"t":531,"y":24.96},{"s":25,"t":550,"y":25.04},{"s":25,"t":569,"y":25.01},{"s":25,"t":589,"y":25.04},{"s":25,"t":600,"y":25.01},
{"s":26,"t":-400,"y":26},{"s":26,"t":-336,"y":25.97},{"s":26,"t":-272,"y":26.02},{"s":26,"t":-241,"y":26.08},{"s":26,"t":-215,"y":26.16},{"s":26,"t":-190,"y":26.08},{"s":26,"t":-170,"y":26},{"s":26,"t":-119,"y":25.97},{"s":26,"t":-87,"y":25.92},{"s":26,"t":-56,"y":25.46},{"s":26,"t":-24,"y":25.64},{"s":26,"t":0,"y":26},{"s":26,"t":24,"y":26.6},{"s":26,"t":46,"y":26.36},{"s":26,"t":75,"y":25.74},{"s":26,"t":117,"y":26.21},{"s":26,"t":142,"y":26.03},{"s":26,"t":155,"y":26},{"s":26,"t":180,"y":25.875},{"s":26,"t":203,"y":26.05},{"s":26,"t":225,"y":25.875},{"s":26,"t":247,"y":26.1},{"s":26,"t":270,"y":25.84},{"s":26,"t":292,"y":26.1},{"s":26,"t":311,"y":25.98},{"s":26,"t":330,"y":26.08},{"s":26,"t":349,"y":25.95},{"s":26,"t":369,"y":26.08},{"s":26,"t":388,"y":25.98},{"s":26,"t":407,"y":26.08},{"s":26,"t":423,"y":25.92},{"s":26,"t":442,"y":26.05},{"s":26,"t":458,"y":25.95},{"s":26,"t":477,"y":26.05},{"s":26,"t":493,"y":25.98},{"s":26,"t":512,"y":26.05},{"s":26,"t":531,"y":25.98},{"s":26,"t":550,"y":26.05},{"s":26,"t":569,"y":25.93},{"s":26,"t":589,"y":26.05},{"s":26,"t":600,"y":25.98},
{"s":27,"t":-400,"y":27.01},{"s":27,"t":-336,"y":26.96},{"s":27,"t":-272,"y":27.02},{"s":27,"t":-241,"y":27.09},{"s":27,"t":-212,"y":27.17},{"s":27,"t":-190,"y":27.09},{"s":27,"t":-158,"y":26.97},{"s":27,"t":-119,"y":26.97},{"s":27,"t":-81,"y":26.89},{"s":27,"t":-52,"y":26.47},{"s":27,"t":-30,"y":26.52},{"s":27,"t":-11,"y":26.78},{"s":27,"t":0,"y":27.04},{"s":27,"t":32,"y":27.625},{"s":27,"t":46,"y":27.51},{"s":27,"t":85,"y":26.73},{"s":27,"t":123,"y":27.15},{"s":27,"t":149,"y":27.04},{"s":27,"t":180,"y":26.83},{"s":27,"t":203,"y":27.09},{"s":27,"t":228,"y":26.83},{"s":27,"t":251,"y":27.09},{"s":27,"t":270,"y":26.83},{"s":27,"t":292,"y":27.09},{"s":27,"t":311,"y":26.94},{"s":27,"t":333,"y":27.09},{"s":27,"t":353,"y":26.94},{"s":27,"t":375,"y":27.09},{"s":27,"t":394,"y":26.94},{"s":27,"t":413,"y":27.09},{"s":27,"t":429,"y":26.94},{"s":27,"t":448,"y":27.09},{"s":27,"t":467,"y":26.94},{"s":27,"t":487,"y":27.06},{"s":27,"t":502,"y":26.94},{"s":27,"t":522,"y":27.04},{"s":27,"t":538,"y":26.96},{"s":27,"t":557,"y":27.04},{"s":27,"t":573,"y":26.96},{"s":27,"t":589,"y":27.06},{"s":27,"t":600,"y":26.96},
{"s":28,"t":-400,"y":27.99},{"s":28,"t":-336,"y":28.02},{"s":28,"t":-311,"y":28.04},{"s":28,"t":-285,"y":28.15},{"s":28,"t":-260,"y":28.09},{"s":28,"t":-234,"y":27.99},{"s":28,"t":-190,"y":27.99},{"s":28,"t":-145,"y":27.97},{"s":28,"t":-119,"y":27.9},{"s":28,"t":-87,"y":27.6},{"s":28,"t":-65,"y":27.76},{"s":28,"t":-36,"y":27.79},{"s":28,"t":-17,"y":27.92},{"s":28,"t":0,"y":28.125},{"s":28,"t":31,"y":28.625},{"s":28,"t":46,"y":28.49},{"s":28,"t":85,"y":27.66},{"s":28,"t":123,"y":28.23},{"s":28,"t":149,"y":27.92},{"s":28,"t":174,"y":27.9},{"s":28,"t":196,"y":27.92},{"s":28,"t":215,"y":28.02},{"s":28,"t":238,"y":27.83},{"s":28,"t":260,"y":28.07},{"s":28,"t":282,"y":27.86},{"s":28,"t":308,"y":28.21},{"s":28,"t":327,"y":27.9},{"s":28,"t":349,"y":28.04},{"s":28,"t":369,"y":28},{"s":28,"t":391,"y":28.02},{"s":28,"t":410,"y":27.97},{"s":28,"t":432,"y":27.94},{"s":28,"t":458,"y":27.97},{"s":28,"t":480,"y":27.97},{"s":28,"t":502,"y":28.07},{"s":28,"t":518,"y":27.92},{"s":28,"t":534,"y":28.125},{"s":28,"t":550,"y":27.9},{"s":28,"t":566,"y":28.125},{"s":28,"t":582,"y":27.92},{"s":28,"t":600,"y":27.97},
{"s":29,"t":-400,"y":29.03},{"s":29,"t":-336,"y":28.98},{"s":29,"t":-272,"y":29.04},{"s":29,"t":-234,"y":29.15},{"s":29,"t":-209,"y":29.08},{"s":29,"t":-183,"y":28.99},{"s":29,"t":-132,"y":28.98},{"s":29,"t":-87,"y":28.91},{"s":29,"t":-56,"y":28.52},{"s":29,"t":-30,"y":28.59},{"s":29,"t":-11,"y":28.8},{"s":29,"t":0,"y":29.01},{"s":29,"t":31,"y":29.64},{"s":29,"t":46,"y":29.48},{"s":29,"t":85,"y":28.73},{"s":29,"t":117,"y":29.17},{"s":29,"t":142,"y":29.04},{"s":29,"t":155,"y":29.08},{"s":29,"t":180,"y":28.85},{"s":29,"t":209,"y":29.08},{"s":29,"t":231,"y":28.8},{"s":29,"t":254,"y":29.15},{"s":29,"t":270,"y":28.83},{"s":29,"t":292,"y":29.11},{"s":29,"t":311,"y":28.96},{"s":29,"t":330,"y":29.06},{"s":29,"t":349,"y":28.96},{"s":29,"t":369,"y":29.06},{"s":29,"t":391,"y":28.99},{"s":29,"t":407,"y":29.11},{"s":29,"t":423,"y":28.91},{"s":29,"t":442,"y":29.08},{"s":29,"t":458,"y":28.85},{"s":29,"t":477,"y":29.08},{"s":29,"t":496,"y":28.89},{"s":29,"t":512,"y":29.08},{"s":29,"t":531,"y":28.99},{"s":29,"t":550,"y":29.06},{"s":29,"t":569,"y":28.96},{"s":29,"t":589,"y":29.11},{"s":29,"t":600,"y":29.01},
{"s":30,"t":-400,"y":30},{"s":30,"t":-336,"y":29.97},{"s":30,"t":-272,"y":30.02},{"s":30,"t":-241,"y":30.08},{"s":30,"t":-221,"y":30.16},{"s":30,"t":-190,"y":30.05},{"s":30,"t":-164,"y":29.97},{"s":30,"t":-119,"y":29.97},{"s":30,"t":-87,"y":29.92},{"s":30,"t":-56,"y":29.48},{"s":30,"t":-24,"y":29.64},{"s":30,"t":0,"y":29.95},{"s":30,"t":31,"y":30.6},{"s":30,"t":46,"y":30.47},{"s":30,"t":88,"y":29.72},{"s":30,"t":120,"y":30.16},{"s":30,"t":142,"y":30.03},{"s":30,"t":158,"y":30.05},{"s":30,"t":180,"y":29.84},{"s":30,"t":203,"y":30.08},{"s":30,"t":228,"y":29.79},{"s":30,"t":251,"y":30.16},{"s":30,"t":270,"y":29.81},{"s":30,"t":292,"y":30.125},{"s":30,"t":311,"y":29.95},{"s":30,"t":333,"y":30.08},{"s":30,"t":353,"y":29.98},{"s":30,"t":372,"y":30.08},{"s":30,"t":394,"y":29.95},{"s":30,"t":413,"y":30.1},{"s":30,"t":429,"y":29.92},{"s":30,"t":448,"y":30.1},{"s":30,"t":467,"y":29.92},{"s":30,"t":487,"y":30.1},{"s":30,"t":502,"y":29.9},{"s":30,"t":522,"y":30.1},{"s":30,"t":538,"y":29.98},{"s":30,"t":557,"y":30.02},{"s":30,"t":576,"y":29.98},{"s":30,"t":592,"y":30.03},{"s":30,"t":600,"y":30},
{"s":31,"t":-400,"y":31.01},{"s":31,"t":-336,"y":31},{"s":31,"t":-311,"y":31.04},{"s":31,"t":-285,"y":31.15},{"s":31,"t":-260,"y":31.09},{"s":31,"t":-234,"y":30.99},{"s":31,"t":-190,"y":30.99},{"s":31,"t":-145,"y":30.97},{"s":31,"t":-119,"y":30.89},{"s":31,"t":-84,"y":30.59},{"s":31,"t":-56,"y":30.73},{"s":31,"t":-30,"y":30.75},{"s":31,"t":-11,"y":30.81},{"s":31,"t":0,"y":31.04},{"s":31,"t":32,"y":31.69},{"s":31,"t":46,"y":31.61},{"s":31,"t":88,"y":30.625},{"s":31,"t":126,"y":31.25},{"s":31,"t":155,"y":30.94},{"s":31,"t":187,"y":30.89},{"s":31,"t":215,"y":31.09},{"s":31,"t":238,"y":30.78},{"s":31,"t":263,"y":31.15},{"s":31,"t":286,"y":30.81},{"s":31,"t":308,"y":31.2},{"s":31,"t":327,"y":30.99},{"s":31,"t":349,"y":31.04},{"s":31,"t":372,"y":30.99},{"s":31,"t":394,"y":31.02},{"s":31,"t":416,"y":30.99},{"s":31,"t":436,"y":31.04},{"s":31,"t":458,"y":30.99},{"s":31,"t":483,"y":30.94},{"s":31,"t":499,"y":31.125},{"s":31,"t":515,"y":30.85},{"s":31,"t":531,"y":31.125},{"s":31,"t":547,"y":30.85},{"s":31,"t":563,"y":31.15},{"s":31,"t":582,"y":30.89},{"s":31,"t":600,"y":31.04},
{"s":32,"t":-400,"y":32},{"s":32,"t":-323,"y":31.96},{"s":32,"t":-272,"y":32.02},{"s":32,"t":-234,"y":32.1},{"s":32,"t":-215,"y":32.17},{"s":32,"t":-190,"y":32.07},{"s":32,"t":-164,"y":31.97},{"s":32,"t":-119,"y":31.97},{"s":32,"t":-81,"y":31.9},{"s":32,"t":-52,"y":31.52},{"s":32,"t":-24,"y":31.6},{"s":32,"t":0,"y":31.9},{"s":32,"t":31,"y":32.625},{"s":32,"t":46,"y":32.49},{"s":32,"t":82,"y":31.69},{"s":32,"t":120,"y":32.15},{"s":32,"t":145,"y":32.02},{"s":32,"t":158,"y":32.04},{"s":32,"t":180,"y":31.81},{"s":32,"t":203,"y":32.07},{"s":32,"t":228,"y":31.79},{"s":32,"t":251,"y":32.125},{"s":32,"t":273,"y":31.81},{"s":32,"t":295,"y":32.07},{"s":32,"t":314,"y":31.97},{"s":32,"t":333,"y":32.02},{"s":32,"t":353,"y":31.97},{"s":32,"t":372,"y":32.02},{"s":32,"t":391,"y":31.94},{"s":32,"t":413,"y":32.07},{"s":32,"t":429,"y":31.94},{"s":32,"t":451,"y":32.02},{"s":32,"t":471,"y":31.92},{"s":32,"t":490,"y":32.07},{"s":32,"t":506,"y":31.9},{"s":32,"t":525,"y":32.07},{"s":32,"t":544,"y":31.97},{"s":32,"t":563,"y":32.02},{"s":32,"t":582,"y":31.99},{"s":32,"t":600,"y":31.97},
{"s":33,"t":-400,"y":33.02},{"s":33,"t":-323,"y":32.96},{"s":33,"t":-272,"y":33.04},{"s":33,"t":-234,"y":33.08},{"s":33,"t":-215,"y":33.17},{"s":33,"t":-190,"y":33.09},{"s":33,"t":-164,"y":32.99},{"s":33,"t":-119,"y":32.98},{"s":33,"t":-81,"y":32.89},{"s":33,"t":-49,"y":32.47},{"s":33,"t":-17,"y":32.65},{"s":33,"t":0,"y":32.91},{"s":33,"t":34,"y":33.64},{"s":33,"t":46,"y":33.53},{"s":33,"t":85,"y":32.73},{"s":33,"t":120,"y":33.14},{"s":33,"t":145,"y":33.08},{"s":33,"t":158,"y":33.09},{"s":33,"t":180,"y":32.83},{"s":33,"t":203,"y":33.11},{"s":33,"t":231,"y":32.8},{"s":33,"t":254,"y":33.11},{"s":33,"t":270,"y":32.85},{"s":33,"t":295,"y":33.08},{"s":33,"t":314,"y":32.98},{"s":33,"t":333,"y":33.06},{"s":33,"t":353,"y":32.96},{"s":33,"t":372,"y":33.06},{"s":33,"t":394,"y":32.96},{"s":33,"t":413,"y":33.08},{"s":33,"t":429,"y":32.94},{"s":33,"t":445,"y":33.08},{"s":33,"t":461,"y":32.875},{"s":33,"t":477,"y":33.11},{"s":33,"t":496,"y":32.875},{"s":33,"t":512,"y":33.08},{"s":33,"t":528,"y":32.96},{"s":33,"t":547,"y":33.06},{"s":33,"t":566,"y":32.96},{"s":33,"t":585,"y":33.06},{"s":33,"t":600,"y":32.98},
{"s":34,"t":-400,"y":34},{"s":34,"t":-323,"y":34.02},{"s":34,"t":-298,"y":34.16},{"s":34,"t":-272,"y":34.1},{"s":34,"t":-247,"y":34.02},{"s":34,"t":-196,"y":34},{"s":34,"t":-139,"y":34},{"s":34,"t":-119,"y":33.9},{"s":34,"t":-97,"y":33.61},{"s":34,"t":-62,"y":33.74},{"s":34,"t":-30,"y":33.74},{"s":34,"t":-11,"y":33.92},{"s":34,"t":0,"y":34.16},{"s":34,"t":34,"y":34.68},{"s":34,"t":46,"y":34.57},{"s":34,"t":88,"y":33.64},{"s":34,"t":123,"y":34.26},{"s":34,"t":149,"y":33.98},{"s":34,"t":174,"y":33.875},{"s":34,"t":212,"y":34.05},{"s":34,"t":235,"y":33.81},{"s":34,"t":257,"y":34.1},{"s":34,"t":286,"y":33.84},{"s":34,"t":308,"y":34.21},{"s":34,"t":327,"y":34},{"s":34,"t":353,"y":34.02},{"s":34,"t":378,"y":34},{"s":34,"t":404,"y":34.05},{"s":34,"t":423,"y":34},{"s":34,"t":442,"y":34.05},{"s":34,"t":455,"y":33.95},{"s":34,"t":467,"y":34.05},{"s":34,"t":483,"y":33.9},{"s":34,"t":499,"y":34.16},{"s":34,"t":518,"y":33.875},{"s":34,"t":534,"y":34.16},{"s":34,"t":550,"y":33.875},{"s":34,"t":566,"y":34.125},{"s":34,"t":582,"y":33.95},{"s":34,"t":600,"y":34.05},
{"s":35,"t":-400,"y":35.01},{"s":35,"t":-336,"y":35},{"s":35,"t":-285,"y":35.04},{"s":35,"t":-260,"y":35.17},{"s":35,"t":-234,"y":35.125},{"s":35,"t":-209,"y":35.04},{"s":35,"t":-145,"y":35},{"s":35,"t":-100,"y":34.94},{"s":35,"t":-75,"y":34.59},{"s":35,"t":-43,"y":34.625},{"s":35,"t":-17,"y":34.78},{"s":35,"t":0,"y":35.09},{"s":35,"t":32,"y":35.69},{"s":35,"t":46,"y":35.61},{"s":35,"t":88,"y":34.625},{"s":35,"t":123,"y":35.2},{"s":35,"t":149,"y":35.04},{"s":35,"t":180,"y":34.81},{"s":35,"t":212,"y":35.15},{"s":35,"t":235,"y":34.81},{"s":35,"t":260,"y":35.15},{"s":35,"t":286,"y":34.89},{"s":35,"t":308,"y":35.09},{"s":35,"t":330,"y":34.99},{"s":35,"t":353,"y":35.04},{"s":35,"t":378,"y":35.04},{"s":35,"t":407,"y":34.99},{"s":35,"t":429,"y":35.02},{"s":35,"t":455,"y":34.94},{"s":35,"t":474,"y":35.06},{"s":35,"t":490,"y":34.94},{"s":35,"t":506,"y":35.15},{"s":35,"t":522,"y":34.89},{"s":35,"t":538,"y":35.15},{"s":35,"t":557,"y":34.89},{"s":35,"t":576,"y":35.15},{"s":35,"t":592,"y":34.94},{"s":35,"t":600,"y":35.02},
{"s":36,"t":-400,"y":35.99},{"s":36,"t":-336,"y":35.97},{"s":36,"t":-272,"y":36.04},{"s":36,"t":-237,"y":36.18},{"s":36,"t":-212,"y":36.1},{"s":36,"t":-183,"y":35.99},{"s":36,"t":-119,"y":35.97},{"s":36,"t":-87,"y":35.86},{"s":36,"t":-68,"y":35.58},{"s":36,"t":-43,"y":35.58},{"s":36,"t":-14,"y":35.76},{"s":36,"t":0,"y":35.97},{"s":36,"t":34,"y":36.67},{"s":36,"t":46,"y":36.59},{"s":36,"t":88,"y":35.69},{"s":36,"t":120,"y":36.15},{"s":36,"t":149,"y":36.02},{"s":36,"t":180,"y":35.81},{"s":36,"t":206,"y":36.04},{"s":36,"t":231,"y":35.79},{"s":36,"t":254,"y":36.15},{"s":36,"t":273,"y":35.83},{"s":36,"t":295,"y":36.125},{"s":36,"t":318,"y":35.97},{"s":36,"t":340,"y":36.02},{"s":36,"t":365,"y":35.99},{"s":36,"t":391,"y":36},{"s":36,"t":429,"y":35.94},{"s":36,"t":448,"y":36.04},{"s":36,"t":464,"y":35.86},{"s":36,"t":480,"y":36.125},{"s":36,"t":499,"y":35.86},{"s":36,"t":515,"y":36.15},{"s":36,"t":531,"y":35.86},{"s":36,"t":547,"y":36.15},{"s":36,"t":563,"y":35.94},{"s":36,"t":582,"y":36.07},{"s":36,"t":600,"y":35.94},
{"s":37,"t":-400,"y":37.01},{"s":37,"t":-336,"y":37.03},{"s":37,"t":-298,"y":37.15},{"s":37,"t":-272,"y":37.11},{"s":37,"t":-247,"y":37.01},{"s":37,"t":-196,"y":36.99},{"s":37,"t":-139,"y":37.01},{"s":37,"t":-116,"y":36.83},{"s":37,"t":-94,"y":36.59},{"s":37,"t":-68,"y":36.75},{"s":37,"t":-49,"y":36.83},{"s":37,"t":-30,"y":36.75},{"s":37,"t":-11,"y":36.96},{"s":37,"t":0,"y":37.17},{"s":37,"t":31,"y":37.71},{"s":37,"t":46,"y":37.53},{"s":37,"t":88,"y":36.59},{"s":37,"t":123,"y":37.22},{"s":37,"t":149,"y":36.94},{"s":37,"t":177,"y":36.85},{"s":37,"t":212,"y":37.08},{"s":37,"t":235,"y":36.8},{"s":37,"t":260,"y":37.17},{"s":37,"t":286,"y":36.875},{"s":37,"t":308,"y":37.11},{"s":37,"t":330,"y":36.94},{"s":37,"t":353,"y":37.06},{"s":37,"t":375,"y":37.01},{"s":37,"t":400,"y":37.04},{"s":37,"t":426,"y":36.96},{"s":37,"t":451,"y":37.06},{"s":37,"t":464,"y":36.91},{"s":37,"t":480,"y":37.17},{"s":37,"t":499,"y":36.875},{"s":37,"t":515,"y":37.15},{"s":37,"t":531,"y":36.91},{"s":37,"t":547,"y":37.11},{"s":37,"t":563,"y":36.85},{"s":37,"t":582,"y":37.11},{"s":37,"t":600,"y":36.96},
{"s":38,"t":-400,"y":38},{"s":38,"t":-336,"y":38},{"s":38,"t":-285,"y":38.05},{"s":38,"t":-256,"y":38.19},{"s":38,"t":-228,"y":38.05},{"s":38,"t":-190,"y":38},{"s":38,"t":-132,"y":38},{"s":38,"t":-100,"y":37.92},{"s":38,"t":-75,"y":37.6},{"s":38,"t":-43,"y":37.64},{"s":38,"t":-17,"y":37.77},{"s":38,"t":0,"y":38},{"s":38,"t":34,"y":38.7},{"s":38,"t":46,"y":38.57},{"s":38,"t":88,"y":37.64},{"s":38,"t":120,"y":38.19},{"s":38,"t":149,"y":38.03},{"s":38,"t":164,"y":38},{"s":38,"t":184,"y":37.81},{"s":38,"t":212,"y":38.125},{"s":38,"t":231,"y":37.81},{"s":38,"t":257,"y":38.125},{"s":38,"t":279,"y":37.84},{"s":38,"t":302,"y":38.1},{"s":38,"t":327,"y":38},{"s":38,"t":353,"y":38.02},{"s":38,"t":378,"y":38},{"s":38,"t":404,"y":38},{"s":38,"t":429,"y":37.98},{"s":38,"t":455,"y":38},{"s":38,"t":471,"y":37.95},{"s":38,"t":487,"y":38.05},{"s":38,"t":506,"y":37.81},{"s":38,"t":522,"y":38.23},{"s":38,"t":538,"y":37.84},{"s":38,"t":554,"y":38.1},{"s":38,"t":569,"y":37.95},{"s":38,"t":585,"y":38.03},{"s":38,"t":600,"y":37.98},
{"s":39,"t":-400,"y":38.99},{"s":39,"t":-336,"y":38.98},{"s":39,"t":-272,"y":39.04},{"s":39,"t":-234,"y":39.125},{"s":39,"t":-209,"y":39.2},{"s":39,"t":-183,"y":39.09},{"s":39,"t":-158,"y":38.99},{"s":39,"t":-113,"y":38.97},{"s":39,"t":-75,"y":38.89},{"s":39,"t":-43,"y":38.5},{"s":39,"t":-17,"y":38.625},{"s":39,"t":0,"y":38.89},{"s":39,"t":34,"y":39.625},{"s":39,"t":46,"y":39.56},{"s":39,"t":88,"y":38.73},{"s":39,"t":123,"y":39.09},{"s":39,"t":149,"y":39.09},{"s":39,"t":180,"y":38.81},{"s":39,"t":206,"y":39.125},{"s":39,"t":231,"y":38.83},{"s":39,"t":254,"y":39.125},{"s":39,"t":273,"y":38.85},{"s":39,"t":295,"y":39.09},{"s":39,"t":314,"y":38.99},{"s":39,"t":337,"y":39.09},{"s":39,"t":356,"y":39.02},{"s":39,"t":378,"y":39.04},{"s":39,"t":404,"y":39.04},{"s":39,"t":426,"y":38.94},{"s":39,"t":442,"y":39.125},{"s":39,"t":461,"y":38.89},{"s":39,"t":477,"y":39.15},{"s":39,"t":493,"y":38.92},{"s":39,"t":512,"y":39.09},{"s":39,"t":531,"y":38.94},{"s":39,"t":550,"y":39.04},{"s":39,"t":569,"y":38.99},{"s":39,"t":589,"y":39.04},{"s":39,"t":600,"y":38.99},
{"s":40,"t":-400,"y":39.99},{"s":40,"t":-336,"y":40},{"s":40,"t":-285,"y":40.04},{"s":40,"t":-256,"y":40.18},{"s":40,"t":-231,"y":40.1},{"s":40,"t":-209,"y":40.02},{"s":40,"t":-177,"y":39.99},{"s":40,"t":-119,"y":39.97},{"s":40,"t":-97,"y":39.9},{"s":40,"t":-75,"y":39.58},{"s":40,"t":-43,"y":39.625},{"s":40,"t":-14,"y":39.79},{"s":40,"t":0,"y":40},{"s":40,"t":34,"y":40.7},{"s":40,"t":46,"y":40.625},{"s":40,"t":88,"y":39.66},{"s":40,"t":120,"y":40.18},{"s":40,"t":149,"y":40.07},{"s":40,"t":164,"y":40},{"s":40,"t":184,"y":39.79},{"s":40,"t":212,"y":40.125},{"s":40,"t":235,"y":39.79},{"s":40,"t":260,"y":40.15},{"s":40,"t":282,"y":39.83},{"s":40,"t":302,"y":40.15},{"s":40,"t":324,"y":39.97},{"s":40,"t":346,"y":40.02},{"s":40,"t":372,"y":40},{"s":40,"t":404,"y":40},{"s":40,"t":429,"y":39.97},{"s":40,"t":448,"y":40},{"s":40,"t":467,"y":39.9},{"s":40,"t":487,"y":40.15},{"s":40,"t":502,"y":39.83},{"s":40,"t":522,"y":40.23},{"s":40,"t":538,"y":39.86},{"s":40,"t":554,"y":40.15},{"s":40,"t":569,"y":39.97},{"s":40,"t":585,"y":40.07},{"s":40,"t":600,"y":39.97},
{"s":41,"t":-400,"y":41.01},{"s":41,"t":-336,"y":41.01},{"s":41,"t":-285,"y":41.06},{"s":41,"t":-250,"y":41.17},{"s":41,"t":-221,"y":41.06},{"s":41,"t":-196,"y":41.01},{"s":41,"t":-132,"y":40.99},{"s":41,"t":-100,"y":40.91},{"s":41,"t":-72,"y":40.57},{"s":41,"t":-36,"y":40.625},{"s":41,"t":-11,"y":40.8},{"s":41,"t":0,"y":41.04},{"s":41,"t":34,"y":41.71},{"s":41,"t":46,"y":41.64},{"s":41,"t":88,"y":40.65},{"s":41,"t":120,"y":41.15},{"s":41,"t":149,"y":41.08},{"s":41,"t":164,"y":41.04},{"s":41,"t":184,"y":40.8},{"s":41,"t":212,"y":41.11},{"s":41,"t":235,"y":40.8},{"s":41,"t":257,"y":41.11},{"s":41,"t":282,"y":40.83},{"s":41,"t":302,"y":41.15},{"s":41,"t":327,"y":41.01},{"s":41,"t":353,"y":41.04},{"s":41,"t":378,"y":41.01},{"s":41,"t":404,"y":41.04},{"s":41,"t":429,"y":41.01},{"s":41,"t":448,"y":41.04},{"s":41,"t":464,"y":40.85},{"s":41,"t":483,"y":41.11},{"s":41,"t":502,"y":40.85},{"s":41,"t":518,"y":41.22},{"s":41,"t":538,"y":40.875},{"s":41,"t":554,"y":41.11},{"s":41,"t":569,"y":40.94},{"s":41,"t":585,"y":41.08},{"s":41,"t":600,"y":40.96},
{"s":42,"t":-400,"y":42},{"s":42,"t":-336,"y":42},{"s":42,"t":-298,"y":42.05},{"s":42,"t":-269,"y":42.19},{"s":42,"t":-241,"y":42.08},{"s":42,"t":-209,"y":42},{"s":42,"t":-145,"y":42},{"s":42,"t":-107,"y":41.9},{"s":42,"t":-81,"y":41.6},{"s":42,"t":-49,"y":41.69},{"s":42,"t":-17,"y":41.77},{"s":42,"t":0,"y":42.05},{"s":42,"t":34,"y":42.71},{"s":42,"t":46,"y":42.625},{"s":42,"t":88,"y":41.64},{"s":42,"t":120,"y":42.21},{"s":42,"t":149,"y":42.05},{"s":42,"t":164,"y":42},{"s":42,"t":184,"y":41.79},{"s":42,"t":212,"y":42.1},{"s":42,"t":235,"y":41.81},{"s":42,"t":260,"y":42.125},{"s":42,"t":286,"y":41.84},{"s":42,"t":308,"y":42.1},{"s":42,"t":327,"y":42},{"s":42,"t":353,"y":42.02},{"s":42,"t":378,"y":41.98},{"s":42,"t":400,"y":42.05},{"s":42,"t":423,"y":41.98},{"s":42,"t":442,"y":42.05},{"s":42,"t":461,"y":42},{"s":42,"t":477,"y":41.95},{"s":42,"t":493,"y":42.08},{"s":42,"t":509,"y":41.9},{"s":42,"t":525,"y":42.23},{"s":42,"t":541,"y":41.92},{"s":42,"t":557,"y":42.16},{"s":42,"t":573,"y":41.92},{"s":42,"t":589,"y":42.08},{"s":42,"t":600,"y":41.98}
      ]},
      "mark": {"type": "line", "interpolate": "monotone", "color": "#0000ff", "strokeWidth": 1},
      "encoding": {
        "x": {"field": "t", "type": "quantitative",
          "scale": {"domain": [-400, 600], "nice": false, "zero": false},
          "axis": {"values": [-400, -300, -200, -100, 0, 100, 200, 300, 400, 500], "title": "Time (s)", "titleFontWeight": "bold", "titleFontSize": 18, "titleColor": "black", "titlePadding": 8, "labelFontSize": 18, "labelColor": "black", "labelFlush": false, "labelPadding": 21, "tickSize": -13, "tickColor": "black", "domainColor": "black", "grid": false, "labelFont": "Liberation Sans", "titleFont": "Liberation Sans"}},
        "y": {"field": "y", "type": "quantitative",
          "scale": {"domain": [-0.75, 42.69], "reverse": true, "nice": false, "zero": false},
          "axis": {"values": [0,1,2,3,4,5,6,7,8,9,10,11,12,13,14,15,16,17,18,19,20,21,22,23,24,25,26,27,28,29,30,31,32,33,34,35,36,37,38,39,40,41,42],
            "labelExpr": "['INK.CN.BHT (16, 103 deg) DT 77.5','TOLK.TA.BHT (19, 98 deg) DT −47.2','PS04.PS.BHT (19, 98 deg) DT −42.9','FYU.AK.BHT (20, 100 deg) DT 13.5','COLD.AK.BHT (20, 98 deg) DT −36.8','EGAK.US.BHT (21, 102 deg) DT 72.4','PS05.PS.BHT (21, 98 deg) DT −36.4','PPD.AK.BHT (21, 100 deg) DT 24.2','RDOG.AK.BHT (21, 93 deg) DT −156.2','PS06.PS.BHT (22, 99 deg) DT −17.7','GLM.AK.BHT (22, 100 deg) DT 13.6','SCRK.AK.BHT (22, 102 deg) DT 57.7','MDM.AK.BHT (22, 100 deg) DT 6.2','COLA.IU.BHT (22, 100 deg) DT 10.7','PS08.PS.BHT (22, 100 deg) DT 24.3','CCB.AK.BHT (22, 100 deg) DT 13.9','WHY.CN.BHT (22, 107 deg) DT 190.6','HDA.AK.BHT (22, 101 deg) DT 24.7','DLBC.CN.BHT (22, 111 deg) DT 272.8','RIDG.AK.BHT (22, 102 deg) DT 52.7','PS09.PS.BHT (22, 101 deg) DT 41.6','WRH.AK.BHT (22, 100 deg) DT 13.2','MLY.AK.BHT (22, 99 deg) DT −18.1','MENT.AT.BHT (23, 102 deg) DT 73.7','PS10.PS.BHT (23, 101 deg) DT 47.8','PAX.AK.BHT (23, 102 deg) DT 56.3','MCK.AK.BHT (23, 100 deg) DT 13.4','BPAW.AK.BHT (23, 99 deg) DT −10.7','SKAG.AT.BHT (23, 108 deg) DT 205.1','DHY.AK.BHT (24, 101 deg) DT 36.3','RND.AK.BHT (24, 100 deg) DT 17.8','PLBC.CN.HHT (24, 107 deg) DT 194.9','TRF.AK.BHT (24, 100 deg) DT 3.1','KTH.AK.BHT (24, 99 deg) DT −4.3','BESE.AK.BHT (24, 109 deg) DT 223.5','BARN.AK.BHT (24, 104 deg) DT 118.8','PS11.PS.BHT (24, 102 deg) DT 67.2','JIS.AK.BHT (24, 109 deg) DT 232.9','BAL.AK.BHT (24, 104 deg) DT 112.2','CAST.AK.BHT (24, 99 deg) DT −14.7','KIAG.AK.BHT (24, 104 deg) DT 113.6','VRDI.AK.BHT (24, 103 deg) DT 98.4','BCP.AK.BHT (24, 106 deg) DT 154.6'][datum.value]",
            "title": null, "labelFontSize": 18, "labelColor": "black", "labelFont": "Liberation Sans", "labelOverlap": false, "labelLimit": 0, "labelPadding": 18, "tickSize": -12, "tickColor": "black", "domainColor": "black", "grid": false}},
        "detail": {"field": "s", "type": "nominal"}
      }
    },
    {
      "data": {"values": [{"t0": 0}]},
      "mark": {"type": "rule", "color": "#ff0000", "strokeWidth": 4},
      "encoding": {"x": {"field": "t0", "type": "quantitative"}}
    }
  ]
}
